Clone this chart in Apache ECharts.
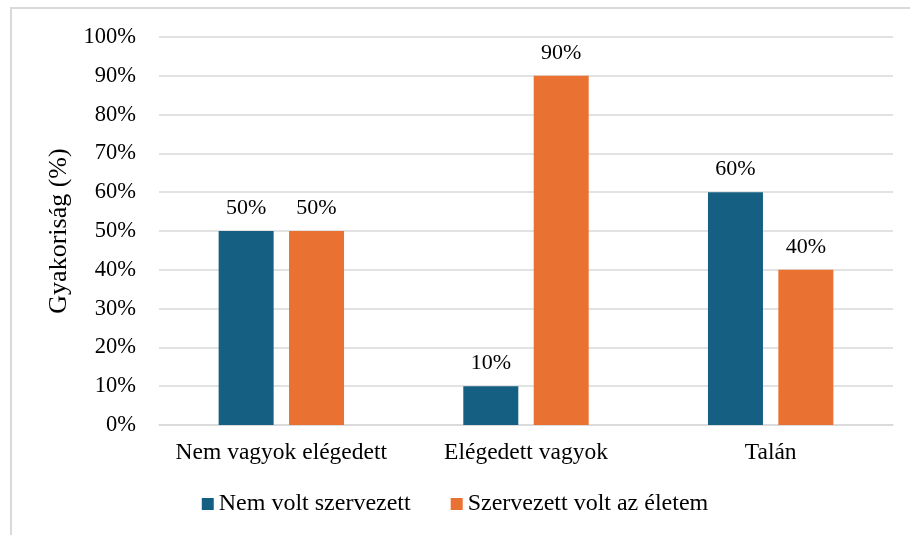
<!DOCTYPE html>
<html>
<head>
<meta charset="utf-8">
<script src="https://cdn.jsdelivr.net/npm/echarts@6/dist/echarts.min.js"></script>
<style>
  html, body { margin: 0; padding: 0; background: #fff; }
  #frame {
    position: absolute; left: 10px; top: 7px; width: 920px; height: 560px;
    border: 2px solid #d9d9d9; box-sizing: border-box;
  }
  #chart { position: absolute; left: 0; top: 0; width: 910px; height: 535px; }
</style>
</head>
<body>
<div id="frame"></div>
<div id="chart"></div>
<script>
var categories = ["Nem vagyok elégedett", "Elégedett vagyok", "Talán"];
var seriesNames = ["Nem volt szervezett", "Szervezett volt az életem"];
var notOrganized = [50, 10, 60];
var organized = [50, 90, 40];
var colors = ["#156082", "#E97132"];

var font = "'Liberation Serif', 'Times New Roman', serif";
var chart = echarts.init(document.getElementById("chart"));

var label = {
  show: true,
  position: "top",
  distance: 12,
  color: "#000",
  fontFamily: font,
  fontSize: 22,
  formatter: "{c}%"
};

chart.setOption({
  color: colors,
  textStyle: { fontFamily: font },
  legend: {
    bottom: 14,
    left: "center",
    itemWidth: 12,
    itemHeight: 12,
    itemGap: 40,
    icon: "rect",
    textStyle: { color: "#000", fontSize: 24, fontFamily: font },
    data: seriesNames
  },
  grid: { left: 159, right: 17, top: 37, bottom: 110 },
  xAxis: {
    type: "category",
    data: categories,
    axisTick: { show: false },
    axisLine: { lineStyle: { color: "#d9d9d9", width: 1.5 } },
    axisLabel: { color: "#000", fontSize: 23.5, fontFamily: font, margin: 16, interval: 0, hideOverlap: false }
  },
  yAxis: {
    type: "value",
    min: 0,
    max: 100,
    interval: 10,
    name: "Gyakoriság (%)",
    nameLocation: "middle",
    nameGap: 84,
    nameTextStyle: { color: "#000", fontSize: 26, fontFamily: font },
    axisLabel: { color: "#000", fontSize: 22.5, fontFamily: font, formatter: "{value}%", margin: 23 },
    splitLine: { lineStyle: { color: "#d9d9d9", width: 1.5 } }
  },
  series: [
    { name: seriesNames[0], type: "bar", data: notOrganized, barWidth: 55, barGap: "28%", label: label },
    { name: seriesNames[1], type: "bar", data: organized, barWidth: 55, label: label }
  ]
});
</script>
</body>
</html>
